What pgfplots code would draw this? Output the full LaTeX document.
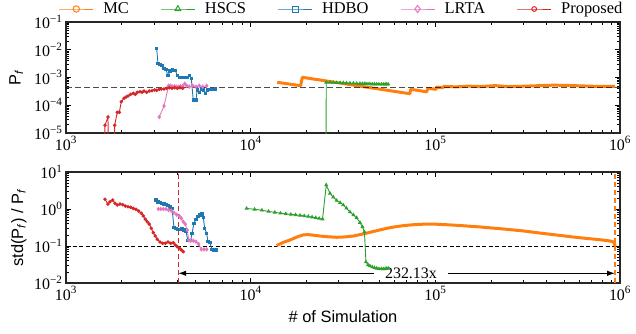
\documentclass[border=0pt]{standalone}
\usepackage{pgfplots}
\pgfplotsset{compat=1.18}
\usepackage{fontspec}
\setmainfont{Liberation Serif}
\newfontfamily\labelfont{Liberation Sans}
\usetikzlibrary{arrows.meta}
\definecolor{cMC}{HTML}{FF7F0E}
\definecolor{cHS}{HTML}{2CA02C}
\definecolor{cHD}{HTML}{1F77B4}
\definecolor{cLR}{HTML}{E377C2}
\definecolor{cPR}{HTML}{D62728}
\pgfplotsset{
  baseaxis/.style={
    scale only axis, width=554bp, height=111bp,
    xmin=1000, xmax=1000000,
    axis line style={black!85, line width=1.3bp},
    tick style={black, line width=0.6bp},
    major tick length=5bp, minor tick length=2.8bp,
    tick align=inside,
    xtick={1000,10000,100000,1000000},
    xticklabels={{10\textsuperscript{3}},{10\textsuperscript{4}},{10\textsuperscript{5}},{10\textsuperscript{6}}},
    minor xtick={2000,3000,4000,5000,6000,7000,8000,9000,20000,30000,40000,50000,60000,70000,80000,90000,200000,300000,400000,500000,600000,700000,800000,900000},
    tick label style={font=\fontsize{16}{16}\selectfont},
    label style={font=\labelfont\fontsize{16.5}{16.5}\selectfont},
    clip=true,
  },
  sPR/.style={cPR, line width=0.9bp, mark=*, mark size=1.3bp, forget plot},
  sHD/.style={cHD, line width=0.9bp, mark=square*, mark size=1.2bp, forget plot},
  sLR/.style={cLR, line width=0.9bp, mark=diamond*, mark size=1.6bp, forget plot},
  sHS/.style={cHS, line width=0.9bp, mark=triangle*, mark size=1.5bp, forget plot},
  sMC/.style={cMC, line width=3bp, line join=round, forget plot},
}
\begin{document}
\begin{tikzpicture}
% ---------------- bottom axis ----------------
\begin{loglogaxis}[baseaxis, at={(0bp,0bp)}, anchor=south west,
  ymin=0.01, ymax=10,
  ytick={0.01,0.1,1,10},
  yticklabels={{10\textsuperscript{−2}},{10\textsuperscript{−1}},{10\textsuperscript{0}},{10\textsuperscript{1}}},
  minor ytick={0.02,0.03,0.04,0.05,0.06,0.07,0.08,0.09,0.2,0.3,0.4,0.5,0.6,0.7,0.8,0.9,2,3,4,5,6,7,8,9},
  xlabel={\# of Simulation},
  ylabel={std(P\textsubscript{\textit{f}}) / P\textsubscript{\textit{f}}},
  xlabel style={at={(axis description cs:0.5,-0.30)}, anchor=center},
  ylabel style={at={(axis description cs:-0.085,0.5)}, anchor=center},
]
\draw[{Latex[length=8bp,width=5.5bp]}-{Latex[length=8bp,width=5.5bp]}, line width=1.1bp] (axis cs:4050,0.0183) -- (axis cs:940000,0.0183);
\node[fill=white, inner xsep=11bp, inner ysep=1bp, font=\fontsize{16}{16}\selectfont] at (axis cs:73800,0.0183) {232.13x};
\addplot[forget plot, black, dash pattern=on 4bp off 2.5bp, line width=1bp] coordinates {(1000,0.1) (1000000,0.1)};
\addplot[forget plot, cPR, dash pattern=on 5bp off 3bp, line width=1.3bp] coordinates {(4050,0.01) (4050,10)};
\addplot[forget plot, cMC, dash pattern=on 5bp off 3bp, line width=1.3bp] coordinates {(940000,0.01) (940000,10)};
% MC
\addplot[sMC] coordinates {(13830,0.103) (15000,0.125) (16320,0.145) (17800,0.175) (19270,0.2) (20500,0.203) (22000,0.195) (23730,0.186) (26000,0.178) (29220,0.172) (32500,0.176) (35940,0.186) (40000,0.208) (44250,0.234) (49000,0.265) (54500,0.30) (60000,0.328) (67030,0.354) (74000,0.372) (82510,0.386) (91000,0.39) (101600,0.388) (120000,0.372) (145000,0.35) (174400,0.327) (205000,0.305) (243200,0.283) (300000,0.255) (368400,0.224) (450000,0.199) (557900,0.175) (660000,0.16) (778300,0.148) (880000,0.137) (925000,0.128) (940000,0.1)};
% HSCS
\addplot[sHS] coordinates {(9500,1.035) (10500,0.98) (11500,0.925) (12500,0.86) (13500,0.81) (14500,0.77) (15500,0.74) (16500,0.715) (17500,0.695) (18500,0.672) (19500,0.65) (20500,0.63) (21500,0.605) (22500,0.58) (23500,0.555) (24500,0.535) (25660,4.45) (26880,2.65) (28000,2.1) (29220,1.70) (30500,1.48) (31720,1.28) (33000,1.05) (34480,0.83) (36000,0.69) (37500,0.58) (39070,0.43) (40300,0.33) (41320,0.24) (42100,0.037) (43200,0.031) (44250,0.0288) (45500,0.027) (46800,0.0258) (48110,0.0249) (49500,0.0243) (51000,0.024) (52230,0.0239) (53500,0.0242) (54500,0.0246) (55590,0.0249)};
% HDBO
\addplot[sHD] coordinates {(3071,1.75) (3148,1.57) (3228,1.48) (3311,1.43) (3395,1.36) (3479,1.31) (3567,1.26) (3657,1.15) (3750,1.04) (3844,0.32) (3940,0.30) (4040,0.28) (4142,0.28) (4246,0.30) (4353,0.27) (4463,0.243) (4576,0.139) (4732,0.139) (4810,0.22) (4932,0.41) (5056,0.53) (5184,0.62) (5315,0.69) (5449,0.73) (5538,0.60) (5635,0.30) (5777,0.22) (5872,0.131) (6025,0.123) (6173,0.081) (6329,0.078) (6489,0.078)};
% LRTA
\addplot[sLR] coordinates {(3160,1.0) (3257,1.0) (3364,1.0) (3479,1.0) (3594,0.94) (3716,0.90) (3844,0.79) (3975,0.70) (4107,0.65) (4211,0.56) (4317,0.45) (4424,0.39) (4537,0.27) (4617,0.145) (4732,0.139) (4890,0.139) (5056,0.131) (5230,0.113) (5401,0.081) (5587,0.081) (5777,0.081)};
% Proposed
\addplot[sPR] coordinates {(1626,1.83) (1688,1.36) (1730,1.57) (1790,1.75) (1842,1.43) (1895,1.28) (1960,1.36) (2028,1.31) (2095,1.20) (2167,1.15) (2240,1.11) (2314,1.04) (2393,0.98) (2475,0.88) (2557,0.77) (2621,0.65) (2688,0.53) (2755,0.45) (2825,0.39) (2896,0.30) (2969,0.229) (3044,0.186) (3121,0.152) (3228,0.128) (3339,0.118) (3449,0.118) (3567,0.128) (3689,0.118) (3810,0.123) (3906,0.106) (4006,0.096) (4107,0.087) (4211,0.078) (4317,0.070)};
\end{loglogaxis}
% ---------------- top axis ----------------
\begin{loglogaxis}[baseaxis, at={(0bp,150bp)}, anchor=south west,
  ymin=1e-5, ymax=1e-1,
  ytick={1e-5,1e-4,1e-3,1e-2,1e-1},
  yticklabels={{10\textsuperscript{−5}},{10\textsuperscript{−4}},{10\textsuperscript{−3}},{10\textsuperscript{−2}},{10\textsuperscript{−1}}},
  minor ytick={2e-5,3e-5,4e-5,5e-5,6e-5,7e-5,8e-5,9e-5,2e-4,3e-4,4e-4,5e-4,6e-4,7e-4,8e-4,9e-4,2e-3,3e-3,4e-3,5e-3,6e-3,7e-3,8e-3,9e-3,2e-2,3e-2,4e-2,5e-2,6e-2,7e-2,8e-2,9e-2},
  ylabel={P\textsubscript{\textit{f}}},
  ylabel style={at={(axis description cs:-0.090,0.5)}, anchor=center},
  legend style={draw=none, fill=none, at={(0.497,1.117)}, anchor=center, legend columns=5,
    font=\fontsize{16.5}{16.5}\selectfont,
    /tikz/every odd column/.append style={column sep=8bp},
    /tikz/every even column/.append style={column sep=30bp},
    nodes={inner sep=1.5bp}},
  legend image code/.code={\draw[mark repeat=2,mark phase=2,#1] plot coordinates {(0bp,0bp) (17bp,0bp) (34bp,0bp)};},
]
\addlegendimage{cMC, line width=1bp, mark=o, mark size=3.2bp, mark options={solid, line width=1bp}}
\addlegendentry{MC}
\addlegendimage{cHS, line width=1bp, mark=triangle, mark size=3.4bp, mark options={solid, line width=1bp}}
\addlegendentry{HSCS}
\addlegendimage{cHD, line width=1bp, mark=square, mark size=3bp, mark options={solid, line width=1bp}}
\addlegendentry{HDBO}
\addlegendimage{cLR, line width=1bp, mark=diamond, mark size=3.6bp, mark options={solid, line width=1bp}}
\addlegendentry{LRTA}
\addlegendimage{cPR, line width=1bp, mark=o, mark size=2.4bp, mark options={solid, line width=1bp}}
\addlegendentry{Proposed}
% MC
\addplot[sMC] coordinates {(13930,6.71e-4) (18650,5.06e-4) (19030,1.016e-3) (72860,2.6e-4) (73500,3.76e-4) (89730,3.05e-4) (91200,4.08e-4) (100800,3.75e-4) (101500,4.5e-4) (110000,4.3e-4) (111000,4.75e-4) (130000,4.6e-4) (150000,4.9e-4) (175000,4.7e-4) (210000,5.1e-4) (250000,4.7e-4) (300000,4.85e-4) (370000,5.1e-4) (440000,5.3e-4) (530000,5.15e-4) (640000,4.95e-4) (780000,4.75e-4) (880000,4.8e-4) (940000,4.75e-4)};
% HSCS
\addplot[sHS] coordinates {(25550,1e-7) (25660,6.7e-4) (26880,6.65e-4) (28000,6.6e-4) (29220,6.5e-4) (30500,6.45e-4) (31720,6.4e-4) (33000,6.3e-4) (34480,6.25e-4) (36000,6.2e-4) (37500,6.1e-4) (39070,6.05e-4) (40300,6e-4) (41320,5.95e-4) (42100,5.9e-4) (43200,5.85e-4) (44250,5.85e-4) (45500,5.8e-4) (46800,5.8e-4) (48110,5.75e-4) (49500,5.75e-4) (51000,5.7e-4) (52230,5.7e-4) (53500,5.7e-4) (54500,5.7e-4) (55590,5.7e-4)};
% HDBO
\addplot[sHD] coordinates {(3097,1.13e-2) (3148,3.25e-3) (3228,2.99e-3) (3311,2.66e-3) (3395,2.15e-3) (3479,1.91e-3) (3567,1.16e-3) (3657,1.71e-3) (3782,1.86e-3) (3908,1.82e-3) (4008,1.16e-3) (4107,9.8e-4) (4210,9.8e-4) (4316,9.8e-4) (4425,9.8e-4) (4537,9.8e-4) (4651,1.16e-3) (4768,9.35e-4) (4888,1.55e-4) (5055,1.55e-4) (5136,3.55e-4) (5265,2.93e-4) (5398,3.85e-4) (5534,3.55e-4) (5673,2.70e-4) (5816,3.55e-4) (6025,3.76e-4) (6226,3.76e-4) (6431,3.85e-4)};
% LRTA
\addplot[sLR] coordinates {(3199,3.78e-5) (3395,9.4e-5) (3594,5.06e-4) (3686,5.06e-4) (3782,4.66e-4) (3875,4.8e-4) (3972,4.66e-4) (4073,4.66e-4) (4175,4.8e-4) (4283,4.9e-4) (4392,5.98e-4) (4503,5.06e-4) (4651,4.66e-4) (4857,5.06e-4) (5055,4.66e-4) (5265,5.06e-4) (5495,4.66e-4) (5778,5.06e-4)};
% Proposed
\addplot[sPR] coordinates {(1600,1e-7) (1626,1.9e-5) (1688,3.78e-5) (1705,1e-7) (1820,1e-7) (1835,1.9e-5) (1895,5.57e-5) (1944,5.57e-5) (1993,1.34e-4) (2061,1.78e-4) (2113,1.98e-4) (2167,2.15e-4) (2240,2.48e-4) (2314,2.70e-4) (2373,2.48e-4) (2432,2.93e-4) (2516,3.08e-4) (2580,2.93e-4) (2645,3.26e-4) (2735,2.93e-4) (2825,3.26e-4) (2922,3.34e-4) (3022,3.55e-4) (3098,3.46e-4) (3200,3.76e-4) (3281,3.85e-4) (3393,3.85e-4) (3509,4.08e-4) (3625,4.29e-4) (3750,4.08e-4) (3878,4.29e-4) (4006,4.08e-4) (4142,4.29e-4) (4283,4.08e-4)};
\addplot[forget plot, black, opacity=0.7, dash pattern=on 6bp off 3bp, line width=1.4bp] coordinates {(1000,4.3e-4) (1000000,4.3e-4)};
\end{loglogaxis}
\pgfresetboundingbox
\useasboundingbox (-66bp,-51bp) rectangle (570bp,283bp);
\end{tikzpicture}
\end{document}
